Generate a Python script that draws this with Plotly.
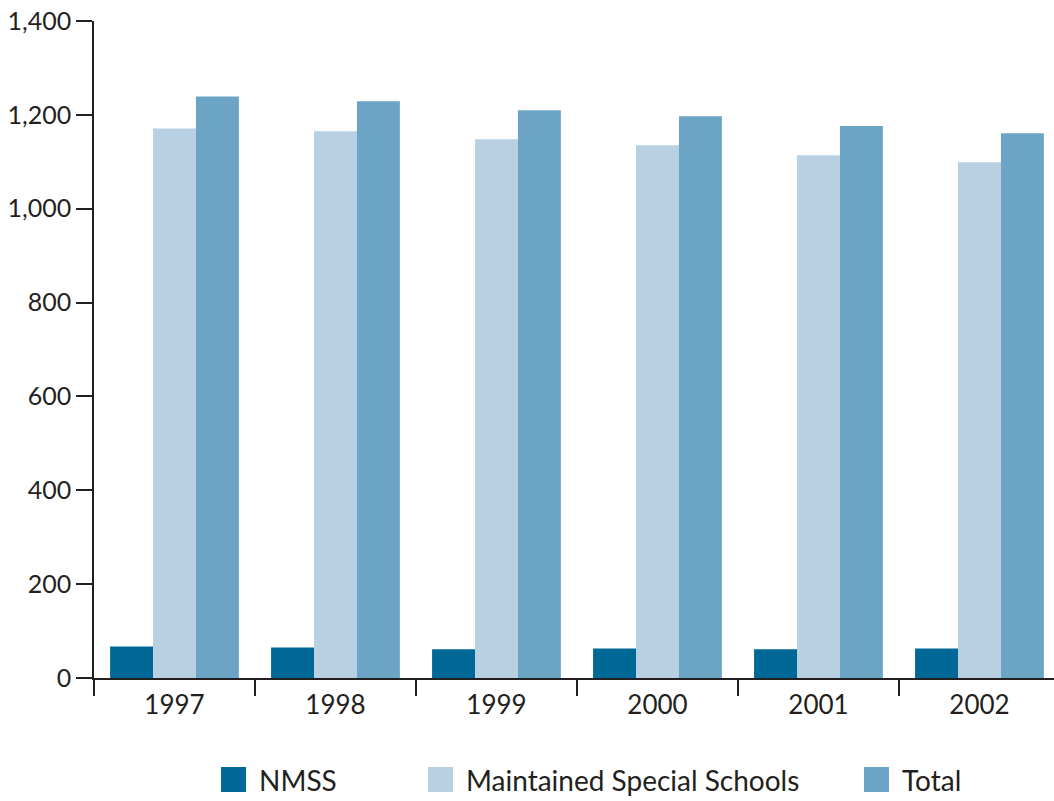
import plotly.graph_objects as go

# Pupil numbers by year
years = ["1997", "1998", "1999", "2000", "2001", "2002"]
nmss = [67, 65, 61, 63, 61, 63]
maintained = [1171, 1165, 1148, 1135, 1114, 1099]
total = [1239, 1229, 1210, 1197, 1176, 1161]

series_names = ["NMSS", "Maintained Special Schools", "Total"]
series_colors = ["#006896", "#b7d1e3", "#6ba4c4"]

W, H = 1054, 801
ML, MR, MT, MB = 94, 0, 21, 123
FONT = "Lato"
INK = "#231f20"

fig = go.Figure()
for name, vals, col in zip(series_names, [nmss, maintained, total], series_colors):
    fig.add_trace(go.Bar(x=years, y=vals, name=name, marker=dict(color=col, line=dict(width=0)),
                         showlegend=False))

# Plot-area pixel -> paper helpers (for the legend block below the axes)
pw, ph = W - ML - MR, H - MT - MB
def px_x(p):
    return (p - ML) / pw
def px_y(p):
    return (H - MB - p) / ph

# Legend: large square swatches with labels underneath the chart
legend_left = [221, 428, 864]
sw = 25
ytop, ybot = 767, 792
for name, col, x0 in zip(series_names, series_colors, legend_left):
    fig.add_shape(type="rect", xref="paper", yref="paper",
                  x0=px_x(x0), x1=px_x(x0 + sw), y0=px_y(ybot), y1=px_y(ytop),
                  fillcolor=col, line=dict(width=0))
    fig.add_annotation(xref="paper", yref="paper", x=px_x(x0 + sw + 11), y=px_y((ytop + ybot) / 2),
                       text=name, showarrow=False, xanchor="left", yanchor="middle",
                       font=dict(family=FONT, size=28, color=INK))

fig.update_layout(
    width=W, height=H,
    margin=dict(l=ML, r=MR, t=MT, b=MB, pad=0),
    paper_bgcolor="white", plot_bgcolor="white",
    barmode="group", bargap=0.2, bargroupgap=0,
    font=dict(family=FONT, size=25, color=INK),
)
fig.update_xaxes(
    type="category", range=[-0.5, 5.463],
    showline=True, linecolor=INK, linewidth=1.5,
    ticks="outside", tickson="boundaries", ticklen=16, tickwidth=1.5, tickcolor=INK,
    ticklabelstandoff=3,
    showgrid=False, zeroline=False,
    tickfont=dict(family=FONT, size=26, color=INK),
)
fig.update_yaxes(
    range=[0, 1400], tickvals=[0, 200, 400, 600, 800, 1000, 1200, 1400], tickformat=",",
    showline=True, linecolor=INK, linewidth=1.5,
    ticks="outside", ticklen=16, tickwidth=1.5, tickcolor=INK,
    showgrid=False, zeroline=False,
    tickfont=dict(family=FONT, size=25, color=INK),
)

fig.write_html("out.html")
